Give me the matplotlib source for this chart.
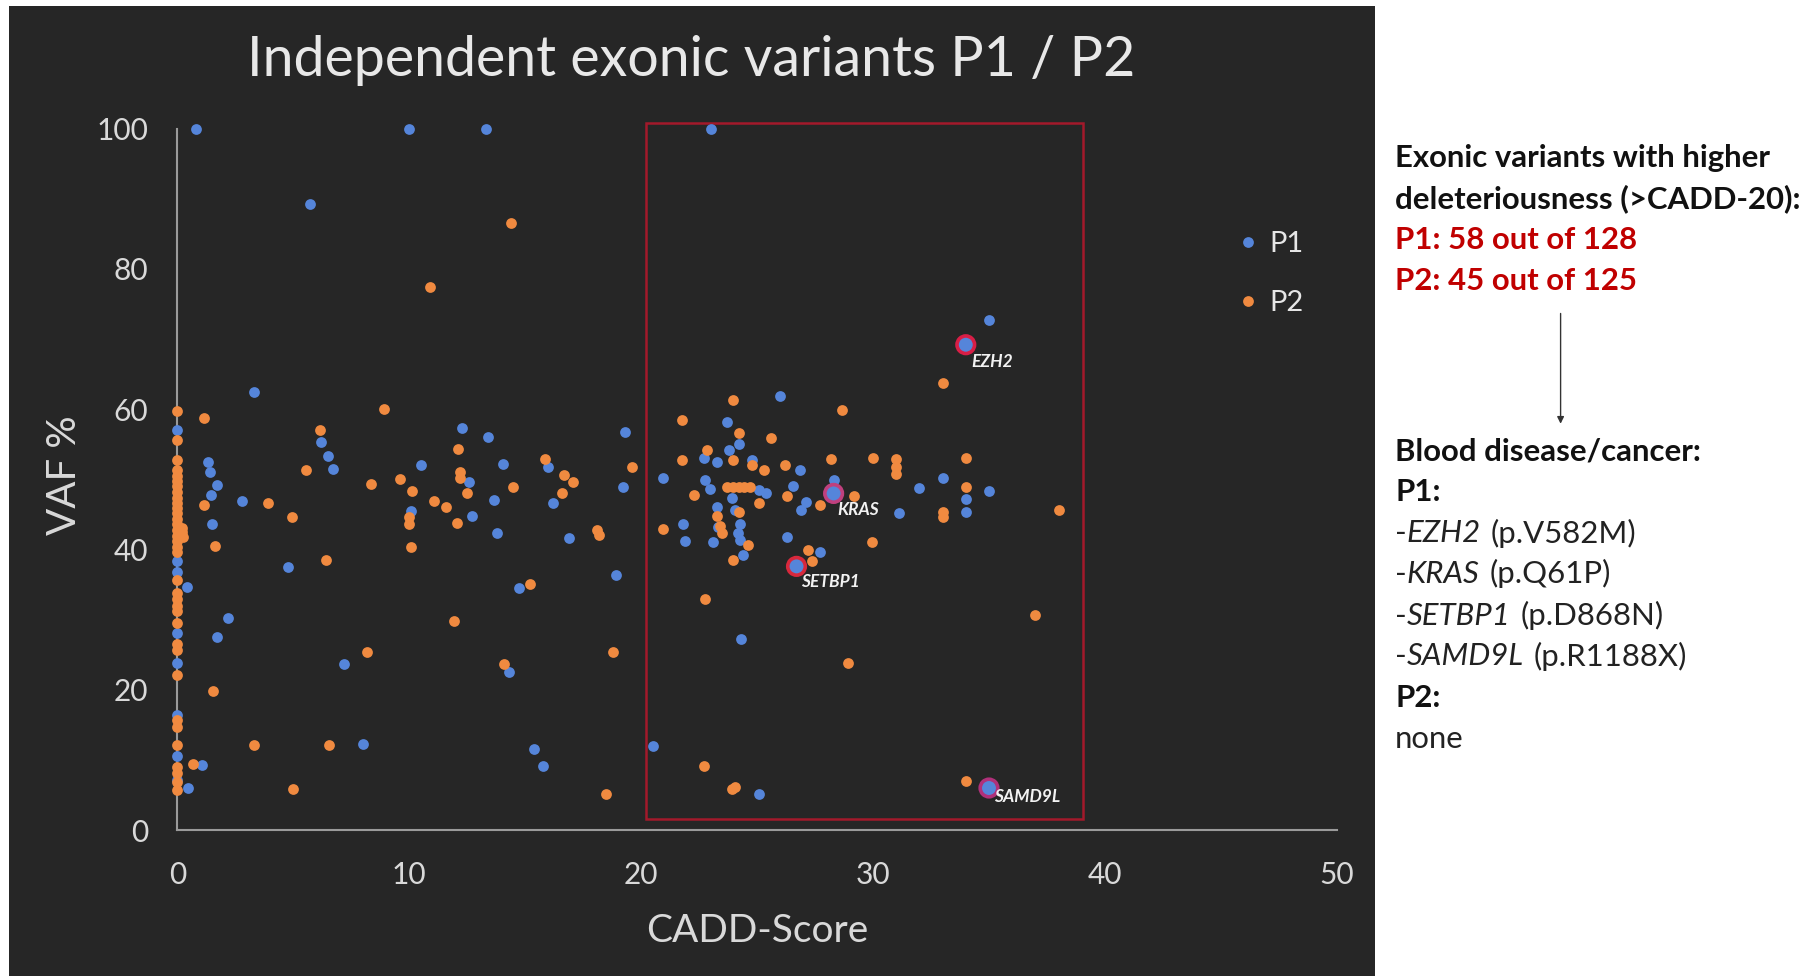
import matplotlib
matplotlib.use('Agg')
import matplotlib.pyplot as plt
from matplotlib.patches import Rectangle, FancyArrowPatch

plt.rcParams['font.family'] = ['Lato', 'DejaVu Sans']

# ---------------- data ----------------
p1_x = [0.8, 10.0, 13.3, 23.0, 5.7, 3.3, 6.2, 6.5, 6.7,
        1.33, 1.4, 1.69, 1.47, 1.5, 2.8, 0.43, 2.2, 1.69, 4.75, 7.2, 8.0,
        1.05, 0.45, 10.07, 10.5, 12.26, 12.58, 12.7, 13.39, 13.66, 13.8,
        14.05, 14.28, 14.73, 15.4, 15.75, 16.0, 16.2, 16.9, 18.9, 19.2, 19.3, 20.5,
        0, 0, 0, 0, 0, 0, 0, 0,
        35.0, 34.0, 26.0, 23.7, 24.2, 23.8, 22.7, 23.25, 24.8, 26.85, 26.56,
        20.95, 22.75, 22.97, 23.9, 24.04, 25.1, 25.4, 23.25, 24.26, 24.19,
        24.26, 21.8, 23.3, 21.9, 23.1, 24.4, 26.3, 27.1, 26.9, 28.3, 28.3,
        27.7, 26.7, 31.1, 32.0, 33.0, 34.0, 34.0, 35.0, 24.3, 25.1, 35.0]
p1_y = [100, 100, 100, 100, 89.2, 62.5, 55.3, 53.4, 51.5,
        52.5, 51.1, 49.2, 47.8, 43.7, 46.9, 34.7, 30.2, 27.6, 37.5, 23.7, 12.3,
        9.3, 6.0, 45.5, 52.0, 57.3, 49.6, 44.8, 56.1, 47.0, 42.3,
        52.2, 22.5, 34.5, 11.6, 9.2, 51.8, 46.7, 41.6, 36.3, 48.9, 56.8, 12.0,
        57.0, 38.3, 36.8, 28.1, 23.8, 16.4, 10.5, 7.1,
        72.7, 69.2, 61.9, 58.2, 55.1, 54.2, 53.0, 52.5, 52.7, 51.3, 49.1,
        50.2, 49.9, 48.7, 47.3, 45.7, 48.5, 48.0, 46.1, 43.7, 42.3,
        41.4, 43.6, 43.2, 41.2, 41.1, 39.2, 41.8, 46.8, 45.7, 48.0, 49.9,
        39.7, 37.6, 45.2, 48.8, 50.2, 47.2, 45.3, 48.3, 27.2, 5.1, 6.0]

p2_x = [14.4, 10.9, 1.15, 8.9, 6.16, 5.56, 1.16, 1.6, 3.9, 4.93, 6.43,
        8.37, 9.6, 10.1, 9.98, 10.0, 10.07, 11.06, 11.6, 12.04, 12.1, 12.2, 12.2,
        12.5, 14.46, 11.95, 14.1, 15.2, 15.86, 16.6, 16.67, 17.06, 18.1, 18.2,
        18.8, 18.5, 19.6, 8.19, 1.52, 3.3, 6.54, 5.0, 0.66,
        0, 0, 0, 0, 0, 0, 0, 0, 0, 0, 0, 0, 0, 0, 0, 0, 0, 0, 0,
        0, 0, 0, 0, 0, 0, 0, 0, 0, 0, 0, 0, 0, 0, 0, 0,
        0.2, 0.25, 0.2,
        33.0, 28.65, 23.97, 21.74, 24.2, 25.6, 22.82, 23.97, 21.74, 24.8,
        25.3, 26.2, 28.2, 30.0, 31.0, 31.0, 31.0, 34.0, 34.0, 23.7, 23.95,
        24.2, 24.45, 24.7, 22.3, 26.3, 25.1, 29.2, 27.7, 23.25, 23.4, 24.2,
        23.5, 20.95, 24.6, 23.97, 27.2, 27.35, 29.94, 33.0, 33.0, 38.0,
        22.74, 37.0, 28.9, 22.7, 23.9, 24.05, 34.0]
p2_y = [86.6, 77.4, 58.8, 60.0, 57.1, 51.3, 46.4, 40.5, 46.7, 44.6, 38.5,
        49.4, 50.1, 48.4, 43.6, 44.6, 40.3, 46.9, 46.1, 43.8, 54.3, 51.1, 50.2,
        48.1, 48.9, 29.8, 23.7, 35.1, 52.9, 48.1, 50.6, 49.6, 42.8, 42.1,
        25.4, 5.1, 51.8, 25.4, 19.9, 12.2, 12.2, 5.9, 9.4,
        59.7, 55.6, 52.8, 51.3, 50.5, 49.8, 49.0, 48.2, 47.4, 46.6, 45.9,
        45.2, 44.4, 43.6, 42.8, 42.0, 41.2, 40.4, 39.6,
        35.7, 33.8, 32.9, 32.0, 31.2, 29.5, 26.6, 25.7, 22.1, 15.7, 14.7,
        12.1, 9.0, 8.1, 5.7, 6.8,
        43.0, 41.8, 42.5,
        63.7, 59.9, 61.3, 58.5, 56.6, 55.9, 54.2, 52.8, 52.8, 52.0,
        51.4, 52.0, 52.9, 53.1, 52.9, 51.7, 50.7, 53.1, 48.9, 48.9, 48.9,
        48.9, 48.9, 48.9, 47.8, 47.6, 46.7, 47.6, 46.4, 44.8, 43.4, 45.3,
        42.4, 42.9, 40.7, 38.5, 39.9, 38.3, 41.1, 44.6, 45.3, 45.7,
        33.0, 30.6, 23.8, 9.1, 5.9, 6.2, 7.0]

genes = ['EZH2', 'KRAS', 'SETBP1', 'SAMD9L']
gene_x = [34.0, 28.3, 26.7, 35.0]
gene_y = [69.2, 48.0, 37.6, 6.0]
gene_ring = ['#d81e46', '#c0407e', '#d8283c', '#b0307a']
gene_off = [(4.3, -12.2), (3.0, -12.0), (3.6, -11.5), (3.6, -6.5)]

box_x = (20.2, 39.05)
box_y = (1.6, 100.8)

xticks = [0, 10, 20, 30, 40, 50]
yticks = [0, 20, 40, 60, 80, 100]

title = 'Independent exonic variants P1 / P2'
xlabel = 'CADD-Score'
ylabel = 'VAF %'

# right-hand notes: list of (segments, color, weight)
notes = [
    ([('Exonic variants with higher', 'normal')], '#111111', 'bold'),
    ([('deleteriousness (>CADD-20):', 'normal')], '#111111', 'bold'),
    ([('P1: 58 out of 128', 'normal')], '#c00000', 'bold'),
    ([('P2: 45 out of 125', 'normal')], '#c00000', 'bold'),
    ([('Blood disease/cancer:', 'normal')], '#111111', 'bold'),
    ([('P1:', 'normal')], '#111111', 'bold'),
    ([('-', 'normal'), ('EZH2', 'italic'), (' (p.V582M)', 'normal')], '#222222', 'normal'),
    ([('-', 'normal'), ('KRAS', 'italic'), (' (p.Q61P)', 'normal')], '#222222', 'normal'),
    ([('-', 'normal'), ('SETBP1', 'italic'), (' (p.D868N)', 'normal')], '#222222', 'normal'),
    ([('-', 'normal'), ('SAMD9L', 'italic'), (' (p.R1188X)', 'normal')], '#222222', 'normal'),
    ([('P2:', 'normal')], '#111111', 'bold'),
    ([('none', 'normal')], '#222222', 'normal'),
]
note_y = [157.7, 198.3, 240.0, 280.6, 451.0, 491.6, 533.3, 573.9, 615.6, 656.2, 698.0, 738.5]

# ---------------- figure ----------------
W, H = 1818, 976
fig = plt.figure(figsize=(W / 100, H / 100), dpi=100)
fig.patch.set_facecolor('white')


def fx(px):
    return px / W


def fy(py):
    return 1 - py / H


fig.add_artist(Rectangle((fx(9), 0), fx(1375) - fx(9), fy(6), transform=fig.transFigure,
                         facecolor='#262626', edgecolor='none', zorder=0))

ax = fig.add_axes([fx(177.4), fy(830.1), (1336.8 - 177.4) / W, (830.1 - 128.7) / H])
ax.set_facecolor('none')
ax.set_xlim(0, 50)
ax.set_ylim(0, 100)
for s in ['top', 'right']:
    ax.spines[s].set_visible(False)
for s in ['left', 'bottom']:
    ax.spines[s].set_color('#9a9a9a')
    ax.spines[s].set_linewidth(1.5)
ax.set_xticks(xticks)
ax.set_yticks(yticks)
ax.tick_params(axis='both', length=0, colors='#d9d9d9', labelsize=21.5)
ax.tick_params(axis='x', pad=22)
ax.tick_params(axis='y', pad=21)

blue = '#5585da'
orange = '#f08a40'

ax.add_patch(Rectangle((box_x[0], box_y[0]), box_x[1] - box_x[0], box_y[1] - box_y[0],
                       fill=False, edgecolor='#a3192b', linewidth=1.8, clip_on=False, zorder=2))

ax.scatter(p1_x, p1_y, s=60, color=blue, linewidths=0, clip_on=False, zorder=3, label='P1')
ax.scatter(p2_x, p2_y, s=60, color=orange, linewidths=0, clip_on=False, zorder=4, label='P2')

ax.scatter(gene_x, gene_y, s=160, facecolors=blue, edgecolors=gene_ring, linewidths=2.6,
           clip_on=False, zorder=5)
for g, x, y, off in zip(genes, gene_x, gene_y, gene_off):
    ax.annotate(g, (x, y), xytext=off, textcoords='offset points', ha='left', va='center',
                fontsize=12.5, fontweight='bold', fontstyle='italic', color='#f2f2f2', zorder=6)

ax.set_xlabel(xlabel, fontsize=28, color='#d9d9d9')
ax.xaxis.label.set_va('center')
ax.xaxis.set_label_coords(0.5, (830.1 - 931) / 701.4)
ax.set_ylabel(ylabel, fontsize=29, color='#d9d9d9')
ax.yaxis.label.set_va('center')
ax.yaxis.set_label_coords((64 - 177.4) / 1159.4, (830.1 - 475) / 701.4)

leg = ax.legend(loc='center left', bbox_to_anchor=(fx(1236.3), fy(273.5)),
                bbox_transform=fig.transFigure, frameon=False, fontsize=21,
                handlelength=0.8, handletextpad=0.35, labelspacing=1.12,
                borderpad=0, borderaxespad=0, scatterpoints=1, scatteryoffsets=[0.5])
for t in leg.get_texts():
    t.set_color('#e6e6e6')

fig.canvas.draw()
r = fig.canvas.get_renderer()

tt = fig.text(fx(691.5), fy(60), title, ha='center', va='center', fontsize=36, color='#e8e8e8')
w = tt.get_window_extent(r).width
tt.set_fontsize(36 * 889 / w)

# fit notes font size on the widest line
probe = fig.text(0, 0, 'deleteriousness (>CADD-20):', fontsize=20, fontweight='bold')
w = probe.get_window_extent(r).width
note_fs = 20 * 406 / w
probe.remove()


def width(txt, **kw):
    t = fig.text(0, 0, txt, fontsize=note_fs, **kw)
    ww = t.get_window_extent(r).width
    t.remove()
    return ww


space_w = width('a a') - width('aa')
x0 = 1395.0
for (segs, col, wt), yy in zip(notes, note_y):
    x = x0
    for txt, style in segs:
        lead = len(txt) - len(txt.lstrip(' '))
        x += lead * space_w
        core = txt.lstrip(' ')
        t = fig.text(fx(x), fy(yy), core, ha='left', va='center', fontsize=note_fs,
                     fontweight=wt, fontstyle=style, color=col)
        x += t.get_window_extent(r).width + (2 if style == 'italic' else 0)

fig.add_artist(FancyArrowPatch((fx(1560.6), fy(310.7)), (fx(1560.6), fy(426.5)),
                               transform=fig.transFigure, arrowstyle='-|>', mutation_scale=10,
                               color='#333333', linewidth=1.0))

fig.savefig('out.png', dpi=100, facecolor='white')
